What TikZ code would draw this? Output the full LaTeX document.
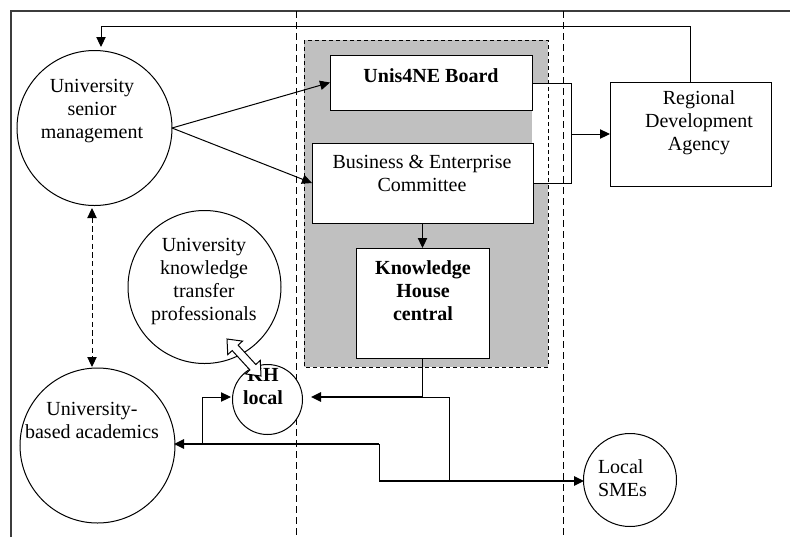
\documentclass[tikz,border=0pt]{standalone}
\usepackage{fontspec}
\setmainfont{Liberation Serif}
\usetikzlibrary{arrows.meta}
\begin{document}
\begin{tikzpicture}[x=0.75pt,y=-0.75pt,
  every node/.style={inner sep=0pt,outer sep=0pt},
  txt/.style={align=center,font=\fontsize{15}{17.25}\selectfont},
  btxt/.style={align=center,font=\fontsize{15}{17.25}\selectfont\bfseries},
  circ/.style={draw,circle,fill=white,line width=0.75pt},
  box/.style={draw,rectangle,fill=white,line width=0.75pt},
  tip/.style={-{Triangle[length=7.5pt,width=7pt]}},
  conn/.style={line width=0.75pt},
  bold conn/.style={line width=1.2pt},
  lane/.style={line width=0.75pt,dash pattern=on 5.25pt off 3pt},
  grouparea/.style={fill={rgb,255:red,192;green,192;blue,192}},
  groupborder/.style={line width=0.75pt,dash pattern=on 3pt off 2.25pt},
  frame/.style={line width=0.9pt,draw={rgb,255:red,60;green,60;blue,60}}
]
\useasboundingbox (0,0) rectangle (790,537);

% frame
\draw[frame] (11,537) -- (11,11) -- (790,11);

% grey group area
\fill[grouparea] (304,40) rectangle (548,367);
% white bracket area
\fill[white] (532,83) rectangle (571,183);
\draw[groupborder] (304,40) rectangle (548,367);

% lanes
\draw[lane] (296,11) -- (296,537);
\draw[lane] (563,11) -- (563,537);

% boxes
\node[box,minimum width=151.5pt,minimum height=41.25pt] (unis) at (431,82.5) {};
\node[box,minimum width=165.75pt,minimum height=60pt] (be) at (422.5,183) {};
\node[box,minimum width=99.75pt,minimum height=82.5pt] (khc) at (422.5,303) {};
\node[box,minimum width=120.75pt,minimum height=78pt] (rda) at (690.5,134) {};

% circles
\node[circ,minimum size=116.25pt] (usm) at (94.5,128) {};
\node[circ,minimum size=114.75pt] (uktp) at (204.5,287) {};
\node[circ,minimum size=116.25pt] (uba) at (97.5,445.5) {};
\node[circ,minimum size=52.5pt] (khl) at (267.5,399.5) {};
\node[circ,minimum size=69.75pt] (sme) at (630,480) {};

% texts
\node[txt] (usmt) at (92,111) {University\\senior\\management};
\node[btxt] (unist) at (431,76) {Unis4NE Board};
\node[txt] (bet) at (422,173) {Business \& Enterprise\\Committee};
\node[btxt] (khct) at (423,291) {Knowledge\\House\\central};
\node[txt] (rdat) at (699,123) {Regional\\Development\\Agency};
\node[txt] (uktpt) at (204,281) {University\\knowledge\\transfer\\professionals};
\node[btxt] (khlt) at (263,387) {KH\\local};
\node[txt] (ubat) at (92,420) {University-\\based academics};
\node[txt,anchor=west,align=left] (smet) at (598,478) {Local\\SMEs};

% bracket from board and committee to RDA
\coordinate (brT) at (571,83);
\coordinate (brB) at (571,183);
\coordinate (brM) at (571,134);
\draw[conn] (unis.east |- brT) -- (brT) -- (brB) -- (be.east |- brB);
\draw[conn,tip] (brM) -- (rda.west |- brM);

% RDA back to senior management
\coordinate (fbTop) at (101,26);
\coordinate (usmIn) at (101,47);
\draw[conn,tip] (rda.north) -- (rda.north |- fbTop) -- (fbTop) -- (usmIn);

% senior management to board and committee
\draw[conn,tip] (usm.east) -- (unis.west);
\draw[conn,tip] (usm.east) -- (be.west);

% committee to KH central
\draw[conn,tip] (be.south) -- (khc.north);

% senior management <-> academics (dashed)
\coordinate (dTop) at (92,208);
\coordinate (dBot) at (92,367);
\draw[conn,dash pattern=on 4pt off 2.5pt,{Triangle[length=7.5pt,width=7pt]}-{Triangle[length=7.5pt,width=7pt]}] (dTop) -- (dBot);

% KH central to KH local and SMEs
\coordinate (j1) at (422.5,397);
\coordinate (khlIn) at (311,397);
\coordinate (j2) at (449,397);
\coordinate (j3) at (449,481);
\coordinate (j4) at (379,481);
\coordinate (j5) at (379,444);
\coordinate (j6) at (202,444);
\coordinate (j7) at (202,397);
\coordinate (ubaIn) at (174,444);
\coordinate (khlInL) at (231,397);
\coordinate (smeIn) at (584,481);
\draw[bold conn] (khc.south) -- (j1);
\draw[bold conn,tip] (j1) -- (khlIn);
\draw[conn] (j1) -- (j2) -- (j3);
\draw[bold conn,tip] (j4) -- (smeIn);
\draw[conn] (j4) -- (j5);
\draw[bold conn,tip] (j5) -- (ubaIn);
\draw[conn,tip] (j6) -- (j7) -- (khlInL);

% hollow double arrow between professionals and KH local
\draw[line width=0.75pt,fill=white,line join=miter]
  (227,339) -- (227.75,354.6) -- (232.2,350.6) -- (249.9,369.9) -- (245.5,373.9)
  -- (261,376) -- (260.3,360.4) -- (255.8,364.5) -- (238.1,345.1) -- (242.5,341.1) -- cycle;
\end{tikzpicture}
\end{document}
